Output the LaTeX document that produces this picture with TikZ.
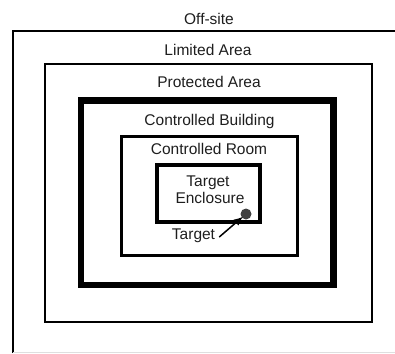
\documentclass[tikz,border=0pt]{standalone}
\usepackage{fontspec}
\setmainfont{Liberation Sans}
\usetikzlibrary{arrows.meta}
\definecolor{ink}{HTML}{1E1E1E}
\tikzset{
  lbl/.style={anchor=base, inner sep=0pt, text=ink, font=\fontsize{15.5}{17}\selectfont},
  thinbox/.style={draw=black, line width=2pt},
  midbox/.style={draw=black, line width=3.5pt},
  thickbox/.style={draw=black, line width=6.5pt}
}
\begin{document}
\begin{tikzpicture}[x=1pt,y=-1pt]
\useasboundingbox (0,0) rectangle (395,353);
% outer off-site boundary (extends beyond picture)
\draw[thinbox] (13,353) -- (13,31.5) -- (395,31.5);
\draw[gray!25, line width=0.8pt] (13,352.3) -- (395,352.3);
% limited area
\draw[thinbox] (45,64) rectangle (372,321.5);
% controlled building (thick)
\draw[thickbox] (81,100.5) rectangle (333.5,285);
% controlled room
\draw[midbox] (121.5,136.5) rectangle (297.5,255.5);
% target enclosure
\draw[midbox] (157,165) rectangle (260,222);
% labels
\node[lbl] (offsite) at (209,25) {Off-site};
\node[lbl] (limited) at (208,55) {Limited Area};
\node[lbl] (protected) at (209,87) {Protected Area};
\node[lbl] (building) at (209.5,125) {Controlled Building};
\node[lbl] (room) at (209,154) {Controlled Room};
\node[lbl] (encl1) at (208,186) {Target};
\node[lbl] (encl2) at (210,203) {Enclosure};
\node[lbl] (tlabel) at (193.5,239) {Target};
% target dot
\node[circle, fill=black!75, inner sep=0pt, minimum width=11pt, minimum height=11pt] (dot) at (246,214) {};
\draw[black, line width=1.5pt, shorten >=-1.5pt, -{Latex[length=9pt,width=8pt]}] ([xshift=4pt,yshift=2pt]tlabel.base east) -- (dot);
\end{tikzpicture}
\end{document}
